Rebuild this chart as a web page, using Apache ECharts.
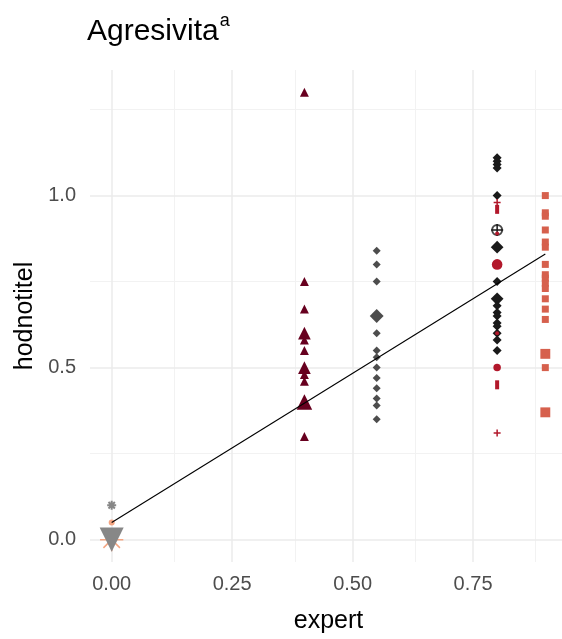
<!DOCTYPE html>
<html>
<head>
<meta charset="utf-8">
<script src="https://cdn.jsdelivr.net/npm/echarts@6/dist/echarts.min.js"></script>
<style>
  html, body { margin: 0; padding: 0; background: #fff; }
  #chart { width: 562px; height: 639px; }
</style>
</head>
<body>
<div id="chart"></div>
<script>
// tick labels / gridlines
const xTicks = [0, 0.25, 0.5, 0.75];
const xMinorTicks = [0.125, 0.375, 0.625, 0.875];
const yTicks = [0, 0.5, 1.0];
const yMinorTicks = [0.25, 0.75, 1.25];

// expert levels (x) and the ratings given at each of them (y), one entry per rating
const expertLevels = [0, 0.4, 0.55, 0.8, 0.9];
const ratingsGrayTri = [0, 0, 0, 0, 0, 0, 0, 0];
const ratingsGrayStar = [0.1];
const ratingsSalmonStar = [0, 0, 0, 0, 0, 0];
const ratingsSalmonDot = [0.05];
const ratingsMaroon = [1.3, 0.75, 0.67, 0.6, 0.6, 0.58, 0.55, 0.5, 0.5, 0.48, 0.46, 0.4, 0.4, 0.4, 0.3];
const ratingsDarkGray = [0.84, 0.8, 0.75, 0.65, 0.65, 0.65, 0.6, 0.55, 0.53, 0.5, 0.47, 0.44, 0.41, 0.39, 0.35];
const ratingsBlack = [1.11, 1.1, 1.09, 1.08, 1.0, 0.85, 0.85, 0.75, 0.7, 0.7, 0.68, 0.66, 0.65, 0.63, 0.62, 0.6, 0.58, 0.55];
const ratingsBlackRing = [0.9];
const ratingsRedCircle = [0.8, 0.8, 0.5];
const ratingsRedDot = [0.89, 0.6];
const ratingsRedBar = [0.96, 0.45];
const ratingsRedPlus = [0.98, 0.31];
const ratingsTomato = [1.0, 0.95, 0.94, 0.9, 0.865, 0.85, 0.8, 0.77, 0.76, 0.745, 0.73, 0.7, 0.67, 0.64, 0.54, 0.54, 0.5, 0.37, 0.37];

// fitted line (lm)
const fitX = [0, 0.9];
const fitY = [0.05, 0.83];

const FONT = '"Liberation Sans", Arial, sans-serif';
const ASTERISK = 'path://M12,0L12,24M0,12L24,12M3.5,3.5L20.5,20.5M3.5,20.5L20.5,3.5';
const PLUS = 'path://M12,0L12,24M0,12L24,12';

// geom_count style: same values stacked -> bigger symbol
function countPoints(x, ratings) {
  const map = new Map();
  ratings.forEach(v => map.set(v, (map.get(v) || 0) + 1));
  return Array.from(map, ([y, n]) => [x, y, n]);
}

function pointSeries(x, ratings, color, symbol, base, extra) {
  return Object.assign({
    type: 'scatter',
    data: countPoints(x, ratings),
    symbol: symbol,
    symbolSize: d => base * Math.sqrt(d[2]),
    itemStyle: { color: color, opacity: 1 },
    silent: true,
    z: 3
  }, extra || {});
}

function strokeStyle(color, w) {
  return { itemStyle: { color: 'none', borderColor: color, borderWidth: w, opacity: 1 } };
}

const majorLine = { color: '#ebebeb', width: 1.5, type: 'solid' };
const minorLine = { color: '#f2f2f2', width: 1, type: 'solid' };

const gridLines = []
  .concat(xMinorTicks.map(v => ({ xAxis: v, lineStyle: minorLine })))
  .concat(yMinorTicks.map(v => ({ yAxis: v, lineStyle: minorLine })))
  .concat(xTicks.map(v => ({ xAxis: v, lineStyle: majorLine })))
  .concat(yTicks.map(v => ({ yAxis: v, lineStyle: majorLine })));

const chart = echarts.init(document.getElementById('chart'));

const option = {
  animation: false,
  backgroundColor: '#fff',
  textStyle: { fontFamily: FONT },
  title: {
    text: '{t|Agresivita}{s|a}',
    left: 87,
    top: 12,
    padding: 0,
    textStyle: {
      fontWeight: 'normal',
      rich: {
        t: { fontSize: 30, color: '#000', fontFamily: FONT, fontWeight: 'normal', verticalAlign: 'bottom' },
        s: { fontSize: 18, color: '#000', fontFamily: FONT, fontWeight: 'normal', verticalAlign: 'bottom', padding: [0, 0, 17, 1] }
      }
    }
  },
  grid: { left: 90, top: 70, width: 477, height: 492, outerBoundsMode: 'none' },
  xAxis: {
    type: 'value',
    min: -0.045,
    max: 0.945,
    axisLine: { show: false },
    axisTick: { show: false },
    splitLine: { show: false },
    axisLabel: {
      customValues: xTicks,
      formatter: v => v.toFixed(2),
      color: '#4d4d4d',
      fontSize: 20,
      margin: 12
    },
    name: 'expert',
    nameLocation: 'middle',
    nameGap: 47,
    nameTextStyle: { color: '#000', fontSize: 25 }
  },
  yAxis: {
    type: 'value',
    min: -0.065,
    max: 1.365,
    axisLine: { show: false },
    axisTick: { show: false },
    splitLine: { show: false },
    axisLabel: {
      customValues: yTicks,
      formatter: v => v.toFixed(1),
      color: '#4d4d4d',
      fontSize: 20,
      margin: 14
    },
    name: 'hodnotitel',
    nameLocation: 'middle',
    nameGap: 51,
    nameTextStyle: { color: '#000', fontSize: 25 }
  },
  series: [
    {
      type: 'scatter',
      data: [],
      silent: true,
      z: 1,
      markLine: {
        z: 1,
        silent: true,
        symbol: 'none',
        label: { show: false },
        emphasis: { disabled: true },
        data: gridLines
      }
    },
    pointSeries(expertLevels[0], ratingsSalmonStar, '#f4a582', ASTERISK, 9.5, strokeStyle('#f4a582', 1.5)),
    pointSeries(expertLevels[0], ratingsSalmonDot, '#f4a582', 'circle', 6),
    pointSeries(expertLevels[0], ratingsGrayTri, '#878787', 'triangle', 8.5, { symbolRotate: 180 }),
    pointSeries(expertLevels[0], ratingsGrayStar, '#878787', ASTERISK, 9, strokeStyle('#878787', 2)),
    pointSeries(expertLevels[1], ratingsMaroon, '#67001f', 'triangle', 9),
    pointSeries(expertLevels[2], ratingsDarkGray, '#4d4d4d', 'diamond', 8),
    pointSeries(expertLevels[3], ratingsBlack, '#1a1a1a', 'diamond', 9),
    pointSeries(expertLevels[3], ratingsBlackRing, '#1a1a1a', 'emptyCircle', 10, { itemStyle: { color: '#1a1a1a', borderWidth: 1.5 } }),
    pointSeries(expertLevels[3], ratingsBlackRing, '#1a1a1a', PLUS, 12, strokeStyle('#1a1a1a', 1.5)),
    pointSeries(expertLevels[3], ratingsRedCircle, '#b2182b', 'circle', 7.5),
    pointSeries(expertLevels[3], ratingsRedDot, '#b2182b', 'circle', 4),
    pointSeries(expertLevels[3], ratingsRedBar, '#b2182b', 'rect', 1, { symbolSize: [4, 9] }),
    pointSeries(expertLevels[3], ratingsRedPlus, '#b2182b', PLUS, 7, strokeStyle('#b2182b', 1.5)),
    pointSeries(expertLevels[4], ratingsTomato, '#d6604d', 'rect', 7),
    {
      type: 'line',
      data: fitX.map((x, i) => [x, fitY[i]]),
      symbol: 'none',
      silent: true,
      z: 5,
      lineStyle: { color: '#000', width: 1.1 }
    }
  ]
};

chart.setOption(option);
</script>
</body>
</html>
